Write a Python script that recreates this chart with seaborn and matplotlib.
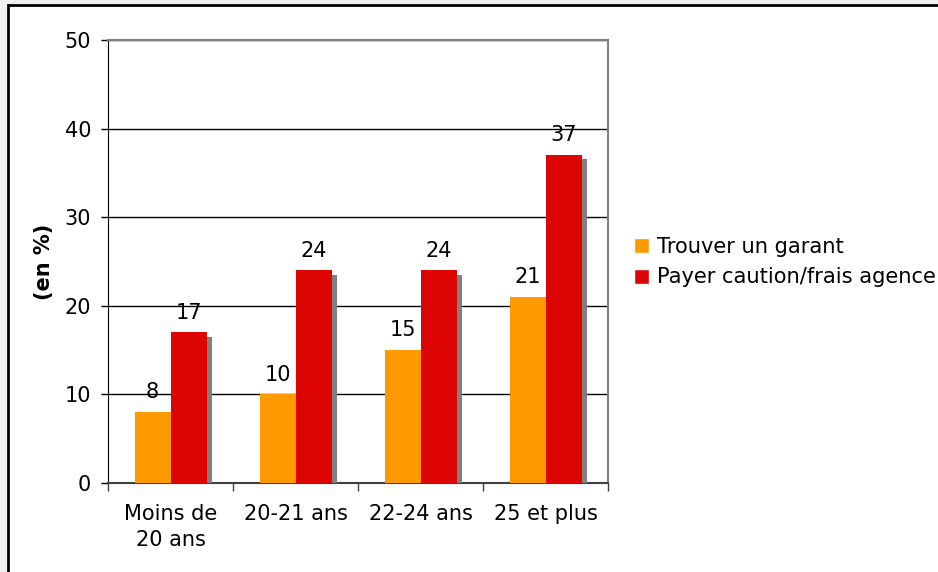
import pandas as pd
import numpy as np
import matplotlib
matplotlib.use("Agg")
import matplotlib.pyplot as plt
import matplotlib.patheffects as pe
from matplotlib.patches import Rectangle
import seaborn as sns

categories = ["Moins de\n20 ans", "20-21 ans", "22-24 ans", "25 et plus"]
series = ["Trouver un garant", "Payer caution/frais agence"]
garant = [8, 10, 15, 21]
caution = [17, 24, 24, 37]
colors = ["#FF9900", "#DD0404"]

df = pd.DataFrame({
    "age": categories * 2,
    "pct": garant + caution,
    "type": [series[0]] * 4 + [series[1]] * 4,
})

sns.set_style("white")
plt.rcParams["font.family"] = ["DejaVu Sans"]
plt.rcParams.update({"text.color": "black", "axes.labelcolor": "black",
                     "xtick.color": "black", "ytick.color": "black"})
fs = 15

fig = plt.figure(figsize=(9.38, 5.72), dpi=100, facecolor="#F0F0F0")
# white frame with black border (runs off the right/bottom edge)
fig.patches.append(Rectangle((8 / 938, -0.1), 1.2, 1 - 5 / 572 + 0.1, transform=fig.transFigure,
                             facecolor="white", edgecolor="black", linewidth=2, zorder=-5))
ax = fig.add_axes([108 / 938, 1 - 483 / 572, 500 / 938, 443 / 572])
ax.set_facecolor("none")

sns.barplot(data=df, x="age", y="pct", hue="type", palette=colors, saturation=1,
            width=0.576, linewidth=0, ax=ax, zorder=3)

# shadow on red bars
for bar in ax.containers[1]:
    bar.set_path_effects([pe.SimplePatchShadow(offset=(3.6, -3), shadow_rgbFace="#808080", alpha=1),
                          pe.Normal()])

for cont in ax.containers:
    ax.bar_label(cont, fmt="%d", padding=7, fontsize=fs, color="black")

ax.set_ylim(0, 50)
ax.set_xlim(-0.5, 3.5)
ax.set_yticks(np.arange(0, 51, 10))
ax.yaxis.grid(True, color="black", linewidth=1, zorder=1)
ax.set_axisbelow(True)
ax.tick_params(axis="y", labelsize=fs, length=5, width=1, direction="out", left=True, pad=7, color="black")
ax.tick_params(axis="x", which="major", labelsize=fs, length=0, pad=15)
ax.set_xticks([-0.5, 0.5, 1.5, 2.5, 3.5], minor=True)
ax.tick_params(axis="x", which="minor", length=6, width=1, color="#404040", bottom=True)
for lab in ax.get_xticklabels():
    lab.set_linespacing(1.4)

ax.set_xlabel("")
ax.set_ylabel("(en %)", fontsize=fs, fontweight="bold", labelpad=8)

for s in ["top", "right"]:
    ax.spines[s].set_color("#808080")
    ax.spines[s].set_linewidth(1.5)
ax.spines["left"].set_color("black")
ax.spines["bottom"].set_color("#404040")
ax.spines["bottom"].set_linewidth(1.5)

ax.legend_.remove()
handles = [Rectangle((0, 0), 1, 1, facecolor=c) for c in colors]
fig.legend(handles, series, loc="center left", bbox_to_anchor=(634 / 938, 1 - 262 / 572),
           frameon=False, fontsize=15.1, handlelength=0.72, handleheight=0.72,
           handletextpad=0.38, labelspacing=0.52, borderaxespad=0, borderpad=0)

fig.savefig("out.png", dpi=100, facecolor=fig.get_facecolor())
